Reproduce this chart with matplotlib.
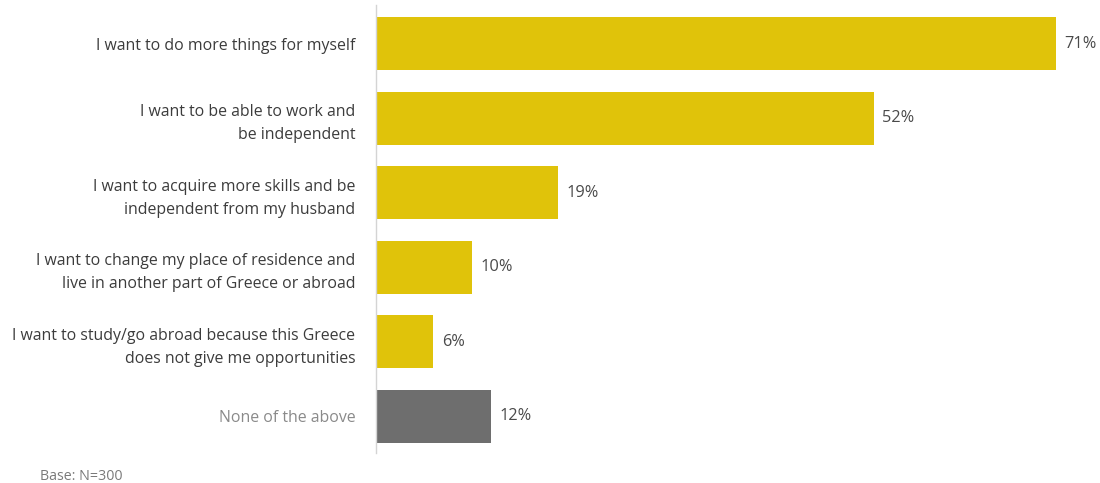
import matplotlib.pyplot as plt

# survey answers, top to bottom
labels = [
    "I want to do more things for myself",
    "I want to be able to work and\nbe independent",
    "I want to acquire more skills and be\nindependent from my husband",
    "I want to change my place of residence and\nlive in another part of Greece or abroad",
    "I want to study/go abroad because this Greece\ndoes not give me opportunities",
    "None of the above",
]
values = [71, 52, 19, 10, 6, 12]
base_note = "Base: N=300"

yellow = "#E0C30A"
grey_bar = "#6E6E6E"
colors = [yellow] * 5 + [grey_bar]

plt.rcParams['font.family'] = ['Open Sans', 'DejaVu Sans']

fig = plt.figure(figsize=(11, 4.83), dpi=100)
ax = fig.add_axes([376 / 1100, 30 / 483, 1 - 376 / 1100, 448 / 483])

pos = list(range(len(values)))
bars = ax.barh(pos, values, height=0.71, color=colors)

for b, v in zip(bars, values):
    ax.annotate(f"{v}%", (b.get_width(), b.get_y() + b.get_height() / 2),
                xytext=(6, 0), textcoords="offset points",
                va="center", ha="left", fontsize=11.8, color="#4a4a4a")

ax.set_yticks(pos)
ax.set_yticklabels(labels, fontsize=11.4, color="#3c3c3c", linespacing=1.58)
ax.get_yticklabels()[-1].set_color("#8a8a8a")
ax.tick_params(axis="y", length=0, pad=15)
ax.tick_params(axis="x", bottom=False, labelbottom=False)

ax.set_xlim(0, 75.6)
ax.set_ylim(5.49, -0.52)

for s in ["top", "right", "bottom"]:
    ax.spines[s].set_visible(False)
ax.spines["left"].set_color("#d4d4d4")
ax.spines["left"].set_linewidth(1)

fig.text(40 / 1100, 1 - 476 / 483, base_note, fontsize=10.3, color="#7a7a7a",
         va="center", ha="left")

fig.savefig("out.png", dpi=100, facecolor="white")
